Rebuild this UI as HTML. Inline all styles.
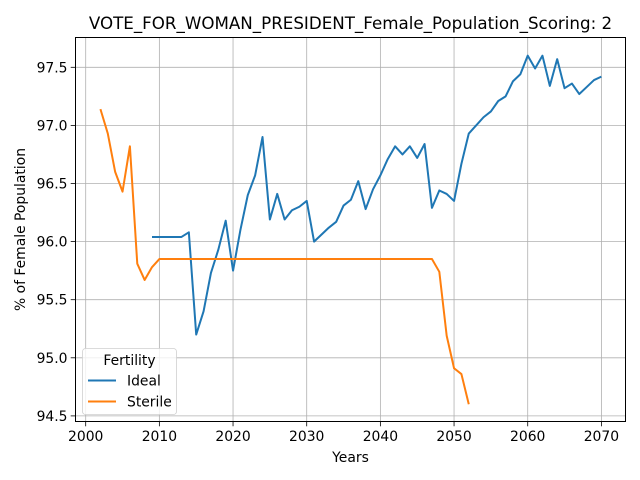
<!DOCTYPE html>
<html><head><meta charset="utf-8"><style>
body{margin:0;background:#fff}
svg{display:block;font-family:"DejaVu Sans","Liberation Sans",sans-serif}
</style></head><body>
<svg id="chart" width="640" height="480" viewBox="0 0 640 480" xmlns="http://www.w3.org/2000/svg"></svg>
<script>
const idealYears=[];for(let y=2009;y<=2070;y++)idealYears.push(y);
const idealValues=[96.04,96.04,96.04,96.04,96.04,96.08,95.2,95.4,95.73,95.93,96.18,95.75,96.1,96.4,96.57,96.9,96.19,96.41,96.19,96.27,96.3,96.35,96.0,96.06,96.12,96.17,96.31,96.36,96.52,96.28,96.45,96.57,96.71,96.82,96.75,96.82,96.72,96.84,96.29,96.44,96.41,96.35,96.67,96.93,97.0,97.07,97.12,97.21,97.25,97.38,97.44,97.6,97.49,97.6,97.34,97.57,97.32,97.36,97.27,97.33,97.39,97.42];
const sterileYears=[];for(let y=2002;y<=2052;y++)sterileYears.push(y);
const sterileValues=[97.14,96.93,96.6,96.43,96.82,95.81,95.67,95.78,95.85,95.85,95.85,95.85,95.85,95.85,95.85,95.85,95.85,95.85,95.85,95.85,95.85,95.85,95.85,95.85,95.85,95.85,95.85,95.85,95.85,95.85,95.85,95.85,95.85,95.85,95.85,95.85,95.85,95.85,95.85,95.85,95.85,95.85,95.85,95.85,95.85,95.85,95.74,95.19,94.91,94.86,94.6];
const xTicks=[2000,2010,2020,2030,2040,2050,2060,2070];
const yTicks=[94.5,95.0,95.5,96.0,96.5,97.0,97.5];

const L=75.5,R=625.5,T=37.5,B=421.5;
const X=v=>85.7+(v-2000)*7.367;
const Y=v=>67.3+(97.5-v)*116.2;
const svg=document.getElementById('chart');
const NS='http://www.w3.org/2000/svg';
function mk(tag,attrs,parent){const e=document.createElementNS(NS,tag);for(const k in attrs)e.setAttribute(k,attrs[k]);(parent||svg).appendChild(e);return e;}

const grid=mk('g',{});


xTicks.forEach(t=>{
  const l=mk('line',{x1:X(t),x2:X(t),y1:T,y2:B,stroke:'#b0b0b0','stroke-width':0.8},grid);
  
  
  const tk=mk('line',{x1:X(t),x2:X(t),y1:B,y2:B+4.8,stroke:'#000','stroke-width':0.8});
  
  
  const tx=mk('text',{x:X(t),y:B+19.5,'font-size':13.9,'text-anchor':'middle',fill:'#000'});
  tx.textContent=t;
  
  
});
yTicks.forEach(t=>{
  const l=mk('line',{x1:L,x2:R,y1:Y(t),y2:Y(t),stroke:'#b0b0b0','stroke-width':0.8},grid);
  
  
  const tk=mk('line',{x1:L-4.8,x2:L,y1:Y(t),y2:Y(t),stroke:'#000','stroke-width':0.8});
  
  
  const tx=mk('text',{x:L-8,y:Y(t)+5,'font-size':13.9,'text-anchor':'end',fill:'#000'});
  tx.textContent=t.toFixed(1);
  
  
});
function line(xs,ys,color,name){
  const p=mk('polyline',{points:xs.map((x,i)=>X(x)+','+Y(ys[i])).join(' '),fill:'none',stroke:color,'stroke-width':2,'stroke-linejoin':'round'});
  
  
}
line(idealYears,idealValues,'#1f77b4','ideal-line');
line(sterileYears,sterileValues,'#ff7f0e','sterile-line');
const fr=mk('rect',{x:L,y:T,width:R-L,height:B-T,fill:'none',stroke:'#000','stroke-width':1});


const title=mk('text',{x:(L+R)/2,y:29,'font-size':16.7,'text-anchor':'middle',fill:'#000'});
title.textContent='VOTE_FOR_WOMAN_PRESIDENT_Female_Population_Scoring: 2';


const xl=mk('text',{x:(L+R)/2,y:462,'font-size':13.9,'text-anchor':'middle',fill:'#000'});
xl.textContent='Years';


const yl=mk('text',{x:0,y:0,'font-size':13.9,'text-anchor':'middle',fill:'#000',transform:'translate(25,'+((T+B)/2)+') rotate(-90)'});
yl.textContent='% of Female Population';


// legend
const lg=mk('g',{});


mk('rect',{x:82.5,y:348.5,width:94,height:66,rx:3,fill:'#fff','fill-opacity':0.8,stroke:'#d0d0d0','stroke-width':0.8},lg);
const lt=mk('text',{x:129.5,y:365,'font-size':13.9,'text-anchor':'middle',fill:'#000'},lg);
lt.textContent='Fertility';


[['Ideal','#1f77b4',380.5],['Sterile','#ff7f0e',401.5]].forEach(([n,c,y])=>{
  const e=mk('g',{},lg);
  
  
  mk('line',{x1:88,x2:116,y1:y,y2:y,stroke:c,'stroke-width':2},e);
  const t=mk('text',{x:127,y:y+5,'font-size':13.9,fill:'#000'},e);
  t.textContent=n;
});
</script>
</body></html>
